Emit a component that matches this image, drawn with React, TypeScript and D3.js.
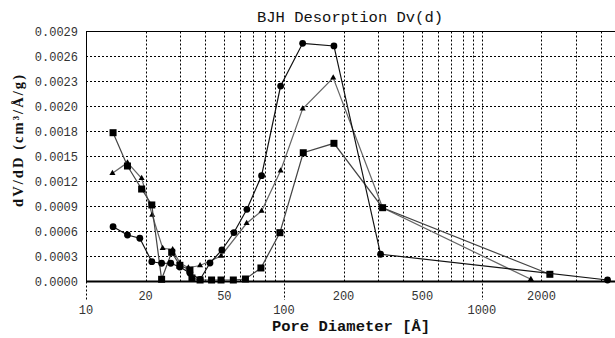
import React, { useEffect, useRef } from 'react';
import * as d3 from 'd3';

// BJH desorption data, pore diameter (Å) vs dV/dD
const circleDiam = [13.7, 16.2, 18.7, 21.5, 24.1, 26.8, 29.8, 33.5, 37.7, 42.3, 48.6, 55.9, 65.0, 77.1, 96.2, 124.3, 178.9, 307.8, 4313];
const circleDv = [0.00064, 0.000543, 0.000505, 0.000231, 0.000213, 0.000213, 0.000169, 0.0000993, 0.0000234, 0.000216, 0.000368, 0.000572, 0.000843, 0.001236, 0.002283, 0.002782, 0.002751, 0.000318, 0.0000175];

const squareDiam = [13.7, 16.2, 19.1, 21.5, 24.1, 27.1, 29.8, 33.5, 34.3, 37.7, 43.1, 48.1, 55.5, 63.9, 76.5, 95.4, 125.2, 178.9, 315.1, 2205];
const squareDv = [0.001738, 0.001349, 0.00108, 0.000894, 0.0000257, 0.000341, 0.000189, 0.000134, 0.0000409, 0.0000175, 0.0000175, 0.0000175, 0.0000175, 0.0000292, 0.000158, 0.00057, 0.001504, 0.001614, 0.000862, 0.0000841];

const triDiam = [13.6, 16.2, 19.1, 21.6, 24.4, 27.4, 29.8, 32.9, 37.7, 48.1, 64.8, 77.1, 96.2, 124.3, 177.4, 315.1, 1768];
const triDv = [0.001264, 0.001388, 0.001205, 0.000777, 0.000388, 0.000374, 0.000216, 0.000161, 0.000187, 0.000298, 0.00068, 0.000823, 0.001294, 0.002018, 0.00238, 0.000862, 0.0000257];

// axis ticks
const yTickStep = 0.000292;
const yTickLabels = ['0.0000', '0.0003', '0.0006', '0.0009', '0.0012', '0.0015', '0.0018', '0.0020', '0.0023', '0.0026', '0.0029'];
const xLabelsUpper = [20, 50, 200, 500, 2000];
const xLabelsLower = [10, 100, 1000];
const xGridValues = [20, 30, 40, 50, 60, 70, 80, 90, 200, 300, 400, 500, 600, 700, 800, 900, 2000, 3000, 4000];
const xDecades = [10, 100, 1000];
const xMax = 4650;

const mono = "'Liberation Mono', 'Courier New', monospace";
const serif = "'Liberation Serif', 'DejaVu Serif', serif";

const App = () => {
  const svgRef = useRef<SVGSVGElement>(null);

  useEffect(() => {
    if (!svgRef.current) return;
    const svg = d3.select(svgRef.current);
    svg.selectAll('*').remove();

    const x = d3.scaleLog().domain([10, xMax]).range([86, 614]);
    const y = d3.scaleLinear().domain([0, yTickStep * 10]).range([281.5, 31.5]);
    const px = (v: number) => Math.round(x(v)) + 0.5;

    const top = y(yTickStep * 10);
    const bottom = y(0);

    // background
    svg.append('rect').attr('width', 615).attr('height', 338).attr('fill', '#fff');

    // horizontal grid
    const yTicks = yTickLabels.map((_, i) => i * yTickStep);
    svg
      .append('g')
      .selectAll('line')
      .data(yTicks.slice(1, 10))
      .enter()
      .append('line')
      .attr('x1', 86)
      .attr('x2', 615)
      .attr('y1', d => y(d))
      .attr('y2', d => y(d))
      .attr('stroke', '#000')
      .attr('stroke-dasharray', '2,2');

    // vertical grid
    svg
      .append('g')
      .selectAll('line')
      .data(xGridValues)
      .enter()
      .append('line')
      .attr('x1', d => px(d))
      .attr('x2', d => px(d))
      .attr('y1', top)
      .attr('y2', bottom)
      .attr('stroke', '#000')
      .attr('stroke-dasharray', '2,2');

    // decade lines run below the axis
    svg
      .append('g')
      .selectAll('line')
      .data(xDecades)
      .enter()
      .append('line')
      .attr('x1', d => px(d))
      .attr('x2', d => px(d))
      .attr('y1', d => (d === 10 ? bottom : top))
      .attr('y2', 300)
      .attr('stroke', '#000')
      .attr('stroke-dasharray', '2,2');

    // frame
    svg.append('line').attr('x1', 86).attr('x2', 615).attr('y1', top).attr('y2', top).attr('stroke', '#000');
    svg.append('line').attr('x1', 86.5).attr('x2', 86.5).attr('y1', top).attr('y2', bottom).attr('stroke', '#000');
    svg.append('line').attr('x1', 86).attr('x2', 615).attr('y1', bottom).attr('y2', bottom).attr('stroke', '#000').attr('stroke-width', 2);

    // y tick labels
    svg
      .append('g')
      .selectAll('text')
      .data(yTickLabels)
      .enter()
      .append('text')
      .attr('x', 78)
      .attr('y', (_, i) => y(i * yTickStep))
      .attr('dy', '0.35em')
      .attr('text-anchor', 'end')
      .style('font-family', mono)
      .style('font-size', '12px')
      .attr('fill', '#333')
      .text(d => d);

    // x tick labels (two rows)
    const xLabelRow = (vals: number[], yPos: number) =>
      svg
        .append('g')
        .selectAll('text')
        .data(vals)
        .enter()
        .append('text')
        .attr('x', d => x(d))
        .attr('y', yPos)
        .attr('text-anchor', 'middle')
        .style('font-family', mono)
        .style('font-size', '12px')
        .attr('fill', '#333')
        .text(d => String(d));
    xLabelRow(xLabelsUpper, 300);
    xLabelRow(xLabelsLower, 314);

    // title and axis labels
    svg
      .append('text')
      .attr('x', 350)
      .attr('y', 22)
      .attr('text-anchor', 'middle')
      .style('font-family', mono)
      .style('font-size', '15.5px')
      .attr('fill', '#111')
      .text('BJH Desorption Dv(d)');

    svg
      .append('text')
      .attr('x', 351)
      .attr('y', 331)
      .attr('text-anchor', 'middle')
      .style('font-family', mono)
      .style('font-size', '15.5px')
      .style('font-weight', 'bold')
      .attr('fill', '#111')
      .text('Pore Diameter [Å]');

    // serif label stretched to the monospace width of the original
    svg
      .append('text')
      .attr('transform', 'translate(18,141) rotate(-90)')
      .attr('x', -66)
      .attr('dy', '0.35em')
      .attr('textLength', 132)
      .attr('lengthAdjust', 'spacing')
      .style('font-family', serif)
      .style('font-size', '14.5px')
      .style('font-weight', 'bold')
      .attr('fill', '#111')
      .text('dV/dD  (cm³/Å/g)');

    // series
    const line = d3
      .line<[number, number]>()
      .x(d => x(d[0]))
      .y(d => y(d[1]));

    const series = [
      { diam: triDiam, dv: triDv, stroke: '#666', marker: 'triangle' },
      { diam: squareDiam, dv: squareDv, stroke: '#444', marker: 'square' },
      { diam: circleDiam, dv: circleDv, stroke: '#111', marker: 'circle' }
    ];

    series.forEach(s => {
      const pts: [number, number][] = s.diam.map((d, i) => [d, s.dv[i]]);
      svg
        .append('path')
        .datum(pts)
        .attr('fill', 'none')
        .attr('stroke', s.stroke)
        .attr('stroke-width', 1.2)
        .attr('d', line);

      const g = svg.append('g').attr('fill', '#000');
      if (s.marker === 'circle') {
        g.selectAll('circle')
          .data(pts)
          .enter()
          .append('circle')
          .attr('cx', d => x(d[0]))
          .attr('cy', d => y(d[1]))
          .attr('r', 3.4);
      } else if (s.marker === 'square') {
        g.selectAll('rect')
          .data(pts)
          .enter()
          .append('rect')
          .attr('x', d => x(d[0]) - 3.5)
          .attr('y', d => y(d[1]) - 3.5)
          .attr('width', 7)
          .attr('height', 7);
      } else {
        const tri = d3.symbol().type(d3.symbolTriangle).size(16);
        g.selectAll('path')
          .data(pts)
          .enter()
          .append('path')
          .attr('transform', d => `translate(${x(d[0])},${y(d[1])})`)
          .attr('d', tri);
      }
    });
  }, []);

  return (
    <svg
      ref={svgRef}
      width={615}
      height={338}
      style={{ position: 'absolute', left: 0, top: 0, display: 'block' }}
    />
  );
};

export default App;
